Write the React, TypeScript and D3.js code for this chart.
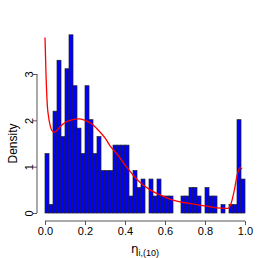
import { useEffect, useRef } from "react";
import * as d3 from "d3";

// counts per bin (50 bins of width 0.02 on [0, 1])
const binCounts = [
  7, 1, 12, 18, 9, 17, 21, 15, 10, 7,
  15, 11, 7, 9, 5, 5, 5, 8, 8, 8,
  8, 2, 5, 3, 4, 0, 4, 2, 4, 2,
  2, 2, 0, 0, 2, 2, 3, 3, 2, 0,
  3, 2, 2, 0, 1, 0, 1, 1, 11, 4,
];
const binWidth = 0.02;

// fitted density curve
const densityX = [
  0.0, 0.005, 0.012, 0.017, 0.025, 0.033, 0.045, 0.06, 0.075, 0.107,
  0.135, 0.167, 0.2, 0.235, 0.257, 0.3, 0.33, 0.357, 0.407, 0.44,
  0.48, 0.525, 0.575, 0.625, 0.675, 0.72, 0.77, 0.82, 0.86, 0.9,
  0.915, 0.93, 0.947, 0.963, 0.975, 0.985,
];
const densityY = [
  3.79, 3.0, 2.3, 2.1, 1.9, 1.79, 1.74, 1.78, 1.86, 1.97,
  2.01, 2.03, 2.0, 1.92, 1.83, 1.62, 1.42, 1.29, 1.0, 0.82,
  0.64, 0.5, 0.39, 0.3, 0.24, 0.21, 0.17, 0.14, 0.11, 0.1,
  0.1, 0.2, 0.5, 0.86, 0.98, 0.95,
];

const xTicks = [0, 0.2, 0.4, 0.6, 0.8, 1.0];
const yTicks = [0, 1, 2, 3];

const Histogram = () => {
  const svgRef = useRef<SVGSVGElement>(null);

  useEffect(() => {
    if (!svgRef.current) return;
    const width = 258;
    const height = 258;
    const font = "'Liberation Sans', Arial, sans-serif";

    const svg = d3.select(svgRef.current);
    svg.selectAll("*").remove();
    svg.attr("width", width).attr("height", height);

    const n = d3.sum(binCounts);
    const bins = binCounts.map((c, i) => ({
      x0: i * binWidth,
      x1: (i + 1) * binWidth,
      d: c / (n * binWidth),
    }));

    const x = d3.scaleLinear().domain([0, 1]).range([45, 245]);
    const y = d3.scaleLinear().domain([0, 3]).range([213, 74]);

    // bars
    svg
      .append("g")
      .selectAll("rect")
      .data(bins.filter((b) => b.d > 0))
      .join("rect")
      .attr("x", (b) => x(b.x0))
      .attr("y", (b) => y(b.d))
      .attr("width", (b) => x(b.x1) - x(b.x0))
      .attr("height", (b) => y(0) - y(b.d))
      .attr("fill", "#0000ff")
      .attr("stroke", "#222")
      .attr("stroke-width", 0.7);

    // density curve
    const line = d3
      .line<number>()
      .x((_, i) => x(densityX[i]))
      .y((v) => y(v))
      .curve(d3.curveMonotoneX);
    svg
      .append("path")
      .attr("d", line(densityY))
      .attr("fill", "none")
      .attr("stroke", "#ff0000")
      .attr("stroke-width", 1.3);

    // x axis
    const xAxis = svg
      .append("g")
      .attr("transform", "translate(0,221)")
      .call(d3.axisBottom(x).tickValues(xTicks).tickFormat(d3.format(".1f")).tickSize(4).tickPadding(2));
    xAxis.select(".domain").attr("stroke", "#555").attr("d", `M${x(0)},0H${x(1)}`);
    xAxis.selectAll(".tick line").attr("stroke", "#555");
    xAxis.selectAll("text").attr("font-family", font).attr("font-size", 11).attr("fill", "#000");

    // y axis
    const yAxis = svg
      .append("g")
      .attr("transform", "translate(37,0)")
      .call(d3.axisLeft(y).tickValues(yTicks).tickFormat(d3.format("d")).tickSize(4));
    yAxis.select(".domain").attr("stroke", "#555").attr("d", `M0,${y(0)}V${y(3)}`);
    yAxis.selectAll(".tick line").attr("stroke", "#555");
    yAxis
      .selectAll<SVGTextElement, number>("text")
      .attr("font-family", font)
      .attr("font-size", 11)
      .attr("fill", "#000")
      .attr("text-anchor", "middle")
      .attr("x", 0)
      .attr("dy", 0)
      .attr("transform", "translate(-8,0) rotate(-90)")
      .attr("dominant-baseline", "central");

    // axis titles
    svg
      .append("text")
      .attr("transform", `translate(13,${(y(0) + y(3)) / 2}) rotate(-90)`)
      .attr("text-anchor", "middle")
      .attr("dominant-baseline", "central")
      .attr("font-family", font)
      .attr("font-size", 12)
      .attr("fill", "#000")
      .text("Density");

    const xl = svg
      .append("text")
      .attr("x", 145)
      .attr("y", 253)
      .attr("text-anchor", "middle")
      .attr("font-family", "'DejaVu Sans', sans-serif")
      .attr("font-size", 12)
      .attr("fill", "#000");
    xl.append("tspan").text("η");
    xl.append("tspan").attr("font-family", font).attr("font-size", 9).attr("dy", 3).text("i,(10)");
  }, []);

  return <svg ref={svgRef} style={{ position: "absolute", left: 0, top: 0 }}></svg>;
};

export default function App() {
  return <Histogram />;
}
